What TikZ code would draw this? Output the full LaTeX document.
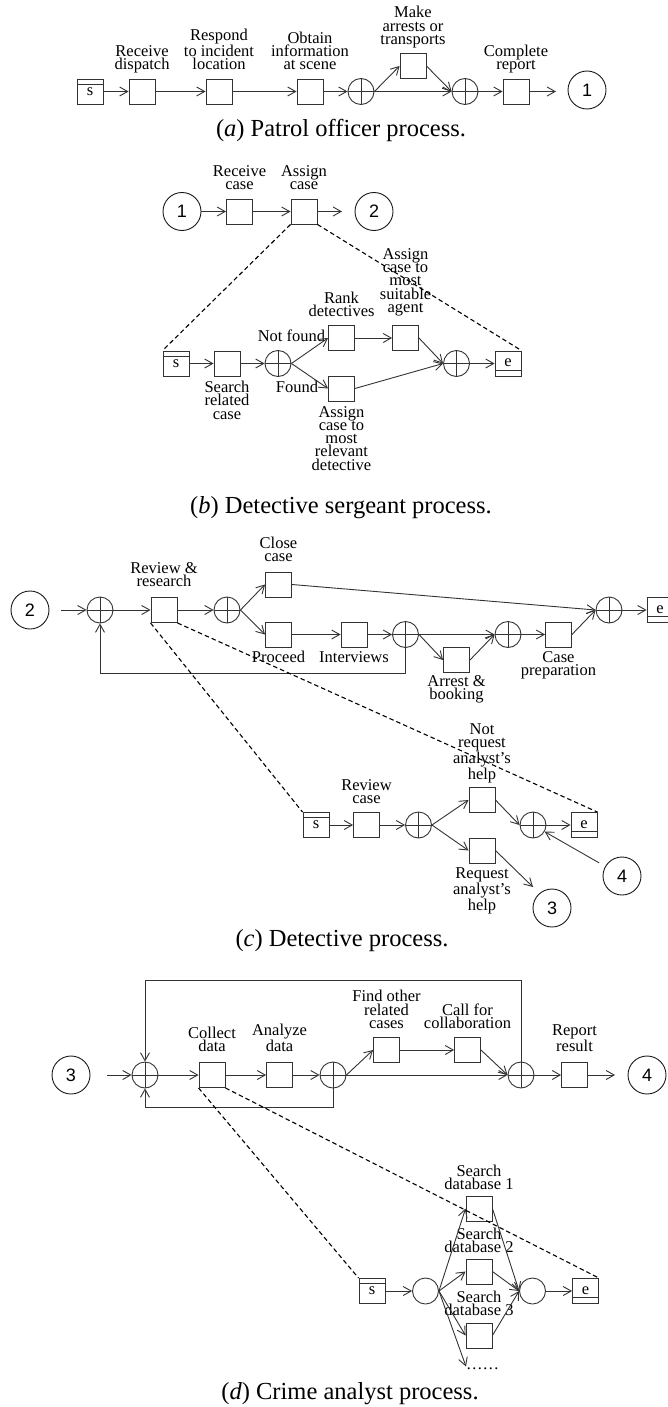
\documentclass[tikz,border=0pt]{standalone}
\usepackage{fontspec}
\setmainfont{Liberation Serif}
\newfontfamily\numfont{Liberation Sans}
\usetikzlibrary{arrows.meta,positioning}
\newcommand\lblsize{\fontsize{16.5}{13.3}\selectfont}
\newcommand\capsize{\fontsize{24.5}{28}\selectfont}
\tikzset{
	task/.style={draw=black!80, line width=0.9pt, minimum width=26pt, minimum height=25pt, inner sep=0pt, font=\lblsize},
	gate/.style={circle, draw=black!80, line width=0.9pt, minimum size=26pt, inner sep=0pt},
	xgate/.style={gate, path picture={\draw[black!80, line width=0.9pt] (path picture bounding box.north) -- (path picture bounding box.south) (path picture bounding box.west) -- (path picture bounding box.east);}},
	startbox/.style={task, path picture={\draw[black!80, line width=0.9pt] ([yshift=-5pt]path picture bounding box.north west) -- ([yshift=-5pt]path picture bounding box.north east);}},
	endbox/.style={task, path picture={\draw[black!80, line width=0.9pt] ([yshift=6pt]path picture bounding box.south west) -- ([yshift=6pt]path picture bounding box.south east);}},
	link/.style={circle, draw=black!90, line width=0.9pt, minimum size=38pt, inner sep=0pt, font=\numfont\fontsize{18}{18}\selectfont},
	lbl/.style={align=center, inner sep=0pt, font=\lblsize, execute at begin node=\strut, execute at end node=\strut},
	captext/.style={anchor=base, inner sep=0pt, font=\capsize},
	arr/.style={draw=black!80, line width=0.9pt, -{Straight Barb[length=8pt,width=9pt]}},
	zoomline/.style={draw=black, line width=1.1pt, dash pattern=on 4.5pt off 3pt}
}
\begin{document}
\begin{tikzpicture}[x=1pt, y=-1pt]
	\useasboundingbox (0,0) rectangle (668,1407);

	\node[startbox] (as) at (90,91.5) {\raisebox{-3pt}{s}};
	\node[task] (a1) at (142,91.5) {};
	\node[task] (a2) at (219,91.5) {};
	\node[task] (a3) at (310,91.5) {};
	\node[xgate] (ag1) at (361,91.5) {};
	\node[task] (a4) at (413,66) {};
	\node[xgate] (ag2) at (465,91.5) {};
	\node[task] (a5) at (516,91.5) {};
	\coordinate (a5e) at (556,91.5);
	\node[link] (ac1) at (587,90) {1};
	\node[lbl, above=4.5pt of a1] (a1t) {Receive\\dispatch};
	\node[lbl, above=4.5pt of a2] (a2t) {Respond\\to incident\\location};
	\node[lbl, above=4.5pt of a3] (a3t) {Obtain\\information\\at scene};
	\node[lbl, above=4.5pt of a4] (a4t) {Make\\arrests or\\transports};
	\node[lbl, above=4.5pt of a5] (a5t) {Complete\\report};
	\foreach \u/\v in {as/a1, a1/a2, a2/a3, a3/ag1, ag1/ag2, ag2/a5, a5/a5e}
		\draw[arr] (\u) -- (\v);
	\draw[arr] (ag1.east) -- (a4.west);
	\draw[arr] (a4.east) -- (ag2.west);
	\node[captext] (capa) at (341,137) {(\textit{a}) Patrol officer process.};

	\node[link] (bc1) at (182,211.5) {1};
	\node[task] (b1) at (239.5,211.5) {};
	\node[task] (b2) at (304,211.5) {};
	\coordinate (b2e) at (342,211.5);
	\node[link] (bc2) at (374,211.5) {2};
	\node[lbl, above=4.5pt of b1] (b1t) {Receive\\case};
	\node[lbl, above=4.5pt of b2] (b2t) {Assign\\case};
	\node[startbox] (bs) at (176,363.5) {\raisebox{-3pt}{s}};
	\node[task] (b3) at (227,363.5) {};
	\node[xgate] (bg1) at (278,363.5) {};
	\node[task] (b4) at (341.5,338) {};
	\node[task] (b5) at (405.5,338) {};
	\node[task] (b6) at (341.5,388.5) {};
	\node[xgate] (bg2) at (456.5,363.5) {};
	\node[endbox] (be) at (508,363.5) {\raisebox{1.5pt}{e}};
	\node[lbl, below=4.5pt of b3] (b3t) {Search\\related\\case};
	\node[lbl, above=4.5pt of b4] (b4t) {Rank\\detectives};
	\node[lbl, above=8.5pt of b5] (b5t) {Assign\\case to\\most\\suitable\\agent};
	\node[lbl, below=4.5pt of b6] (b6t) {Assign\\case to\\most\\relevant\\detective};
	\node[lbl] (bnf) at (291.5,338) {Not found};
	\node[lbl] (bf) at (297,389) {Found};
	\foreach \u/\v in {bc1/b1, b1/b2, b2/b2e, bs/b3, b3/bg1, b4/b5, bg2/be}
		\draw[arr] (\u) -- (\v);
	\foreach \v in {b4, b6}
		\draw[arr] (bg1.east) -- (\v.west);
	\foreach \u in {b5, b6}
		\draw[arr] (\u.east) -- (bg2.west);
	\draw[zoomline] (b2.south west) -- (bs.north west) (b2.south east) -- (be.north east);
	\node[captext] (capb) at (341,513) {(\textit{b}) Detective sergeant process.};

	\node[link] (cc2) at (30,610) {2};
	\coordinate (c0) at (61,610);
	\node[xgate] (cg1) at (100,610) {};
	\node[task] (c1) at (164,610) {};
	\node[xgate] (cg2) at (227,610) {};
	\node[task] (c2) at (278.5,584.5) {};
	\node[task] (c3) at (278.5,634.5) {};
	\node[task] (c4) at (354,634.5) {};
	\node[xgate] (cg3) at (405.5,634.5) {};
	\node[task] (c5) at (456.5,660) {};
	\node[xgate] (cg4) at (508,634.5) {};
	\node[task] (c6) at (558.5,634.5) {};
	\node[xgate] (cg5) at (609,610) {};
	\node[endbox] (ce1) at (660,610) {\raisebox{1.5pt}{e}};
	\coordinate (cbot) at (100,673);
	\node[lbl, above=6pt of c1] (c1t) {Review \&\\research};
	\node[lbl, above=6pt of c2] (c2t) {Close\\case};
	\node[lbl, below=3.5pt of c3] (c3t) {Proceed};
	\node[lbl, below=3.5pt of c4] (c4t) {Interviews};
	\node[lbl, below=2.5pt of c5] (c5t) {Arrest \&\\booking};
	\node[lbl, below=3.5pt of c6] (c6t) {Case\\preparation};
	\foreach \u/\v in {c0/cg1, cg1/c1, c1/cg2, c3/c4, c4/cg3, cg3/cg4, cg4/c6, cg5/ce1}
		\draw[arr] (\u) -- (\v);
	\foreach \v in {c2, c3}
		\draw[arr] (cg2.east) -- (\v.west);
	\foreach \u in {c2, c6}
		\draw[arr] (\u.east) -- (cg5.west);
	\draw[arr] (cg3.east) -- (c5.west);
	\draw[arr] (c5.east) -- (cg4.west);
	\draw[arr] (cg3.south) |- (cbot) -| (cg1.south);

	\node[startbox] (cs) at (316,825) {\raisebox{-3pt}{s}};
	\node[task] (c7) at (366.5,825) {};
	\node[xgate] (cg6) at (418.5,825) {};
	\node[task] (c8) at (482,800) {};
	\node[task] (c9) at (482,850.5) {};
	\node[xgate] (cg7) at (533,825) {};
	\node[endbox] (ce2) at (584,825) {\raisebox{1.5pt}{e}};
	\node[link] (cc4) at (622,876) {4};
	\coordinate (c9e) at (533,887);
	\node[link] (cc3) at (552,908) {3};
	\node[lbl, above=4.5pt of c7] (c7t) {Review\\case};
	\node[lbl, above=3.5pt of c8] (c8t) {Not\\request\\analyst's\\help};
	\node[lbl, below=4.5pt of c9] (c9t) {Request\\analyst's\\help};
	\foreach \u/\v in {cs/c7, c7/cg6, cg7/ce2, c9.east/c9e}
		\draw[arr] (\u) -- (\v);
	\foreach \v in {c8, c9}
		\draw[arr] (cg6.east) -- (\v.west);
	\draw[arr] (c8.east) -- (cg7.west);
	\draw[arr, shorten <=7pt] (cc4) -- (cg7);
	\draw[zoomline] (c1.south west) -- (cs.north west) (c1.south east) -- (ce2.north east);
	\node[captext] (capc) at (342,946) {(\textit{c}) Detective process.};

	\node[link] (dc3) at (71,1075) {3};
	\coordinate (d0) at (107,1075);
	\node[xgate] (dg1) at (145,1075) {};
	\node[task] (d1) at (212,1075) {};
	\node[task] (d2) at (279.5,1075) {};
	\node[xgate] (dg2) at (333,1075) {};
	\node[task] (d3) at (386.5,1050) {};
	\node[task] (d4) at (467.5,1050) {};
	\node[xgate] (dg3) at (521,1075) {};
	\node[task] (d5) at (574.5,1075) {};
	\coordinate (d5e) at (615,1075);
	\node[link] (dc4) at (647,1075) {4};
	\coordinate (dtop) at (145,980);
	\coordinate (dbot) at (145,1107);
	\node[lbl, above=6.5pt of d1] (d1t) {Collect\\data};
	\node[lbl, above=6.5pt of d2] (d2t) {Analyze\\data};
	\node[lbl, above=4.5pt of d3] (d3t) {Find other\\related\\cases};
	\node[lbl, above=4.5pt of d4] (d4t) {Call for\\collaboration};
	\node[lbl, above=6.5pt of d5] (d5t) {Report\\result};
	\foreach \u/\v in {d0/dg1, dg1/d1, d1/d2, d2/dg2, d3/d4, dg2/dg3, dg3/d5, d5/d5e}
		\draw[arr] (\u) -- (\v);
	\draw[arr] (dg2.east) -- (d3.west);
	\draw[arr] (d4.east) -- (dg3.west);
	\draw[arr] (dg3.north) |- (dtop) -| (dg1.north);
	\draw[arr] (dg2.south) |- (dbot) -| (dg1.south);

	\node[startbox] (ds) at (372,1291) {\raisebox{-3pt}{s}};
	\node[gate] (dg4) at (425.5,1291) {};
	\node[task] (d6) at (479,1208.5) {};
	\node[task] (d7) at (479,1271.5) {};
	\node[task] (d8) at (479,1335.5) {};
	\node[lbl, anchor=west] (dmore) at (466,1366.5) {……};
	\node[gate] (dg5) at (532.5,1291) {};
	\node[endbox] (de) at (585.5,1291) {\raisebox{1.5pt}{e}};
	\node[lbl, above=1.5pt of d6] (d6t) {Search\\database 1};
	\node[lbl, above=1.5pt of d7] (d7t) {Search\\database 2};
	\node[lbl, above=2.5pt of d8] (d8t) {Search\\database 3};
	\foreach \u/\v in {ds/dg4, dg5/de}
		\draw[arr] (\u) -- (\v);
	\foreach \v in {d6, d7, d8, dmore}
		\draw[arr] (dg4.east) -- (\v.west);
	\foreach \u in {d6, d7, d8}
		\draw[arr] (\u.east) -- (dg5.west);
	\draw[zoomline] (d1.south west) -- (ds.north west) (d1.south east) -- (de.north east);
	\node[captext] (capd) at (350,1399) {(\textit{d}) Crime analyst process.};
\end{tikzpicture}
\end{document}
